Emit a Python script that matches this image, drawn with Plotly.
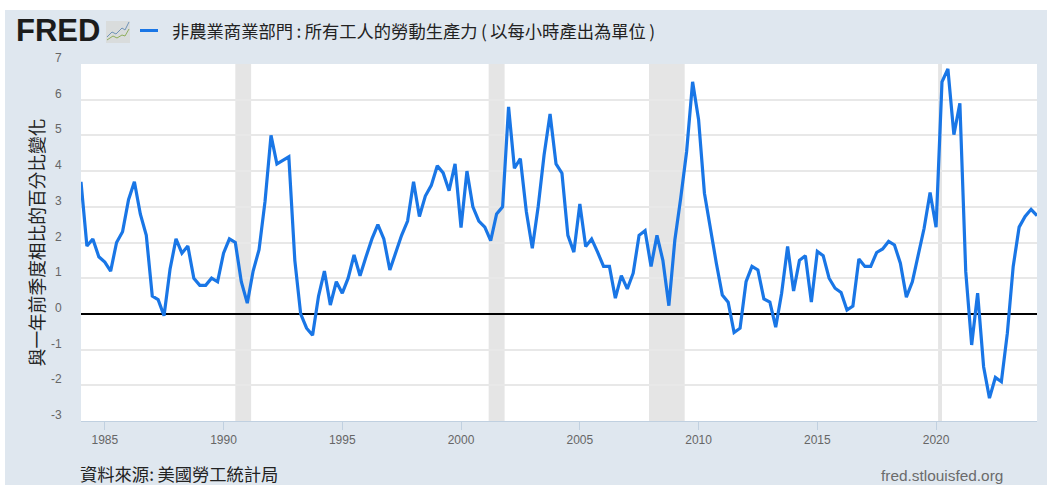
import pandas as pd
import plotly.graph_objects as go

W, H = 1047, 485
ML, MR, MT, MB = 81, 10, 64, 64

START_QUARTER = "1984-01-01"
productivity_yoy = [
    3.7, 1.9, 2.1, 1.6, 1.45, 1.2, 2.0, 2.3, 3.2, 3.7, 2.8, 2.2,
    0.5, 0.4, -0.05, 1.25, 2.1, 1.7, 1.9, 1.0, 0.8, 0.8, 1.0, 0.9,
    1.7, 2.1, 2.0, 0.9, 0.3, 1.2, 1.8, 3.15, 5.0, 4.2, 4.3, 4.4,
    1.5, 0.0, -0.4, -0.6, 0.5, 1.2, 0.25, 0.9, 0.58, 1.0, 1.65, 1.07,
    1.6, 2.1, 2.5, 2.1, 1.23, 1.7, 2.2, 2.6, 3.7, 2.73, 3.3, 3.6,
    4.15, 3.95, 3.45, 4.2, 2.42, 4.0, 3.0, 2.6, 2.43, 2.05, 2.8, 3.0,
    5.8, 4.08, 4.35, 2.87, 1.84, 3.0, 4.45, 5.6, 4.2, 3.94, 2.2, 1.73,
    3.08, 1.89, 2.1, 1.73, 1.33, 1.33, 0.44, 1.07, 0.7, 1.14, 2.2, 2.33,
    1.33, 2.2, 1.5, 0.23, 2.07, 3.24, 4.55, 6.5, 5.44, 3.38, 2.35, 1.42,
    0.53, 0.33, -0.52, -0.4, 0.9, 1.33, 1.23, 0.42, 0.33, -0.37, 0.58, 1.89,
    0.64, 1.5, 1.63, 0.33, 1.75, 1.63, 1.0, 0.72, 0.6, 0.11, 0.22, 1.54,
    1.33, 1.33, 1.72, 1.82, 2.03, 1.93, 1.42, 0.47, 0.9, 1.6, 2.4, 3.4,
    2.43, 6.5, 6.86, 5.02, 5.9, 1.19, -0.87, 0.58, -1.48, -2.36, -1.78, -1.9,
    -0.54, 1.33, 2.43, 2.73, 2.93, 2.75,
]
quarters = pd.date_range(START_QUARTER, periods=len(productivity_yoy), freq="QS")

recession_starts = ["1990-07-01", "2001-03-01", "2007-12-01", "2020-02-01"]
recession_ends = ["1991-03-01", "2001-11-01", "2009-06-01", "2020-04-01"]
y_ticks = [-3, -2, -1, 0, 1, 2, 3, 4, 5, 6, 7]
x_tick_years = [1985, 1990, 1995, 2000, 2005, 2010, 2015, 2020]

THIN = "\u2009"
TITLE = f"非農業商業部門{THIN}:{THIN}所有工人的勞動生產力{THIN}({THIN}以每小時產出為單位{THIN})"
Y_TITLE = "與一年前季度相比的百分比變化"
SOURCE = f"資料來源:{THIN}美國勞工統計局"
SITE = "fred.stlouisfed.org"

PANEL = "#dfe7ef"
BLUE = "#1976e6"
CJK = "Noto Sans CJK TC"
SANS = "Liberation Sans"


def px(x):
    return (x - ML) / (W - ML - MR)


def py(y):
    return 1 - (y - MT) / (H - MT - MB)


def text(s, x, y, size, color, family=CJK, anchor="left"):
    return dict(text=s, x=px(x), y=py(y), xref="paper", yref="paper", showarrow=False,
                xanchor=anchor, yanchor="middle", font=dict(size=size, color=color, family=family))


def rect(x0, y0, x1, y1, color):
    return dict(type="rect", xref="paper", yref="paper", x0=px(x0), x1=px(x1), y0=py(y0), y1=py(y1),
                fillcolor=color, line=dict(width=0), layer="below")


def path(points, color, width):
    d = "M " + " L ".join(f"{px(a):.5f},{py(b):.5f}" for a, b in points)
    return dict(type="path", xref="paper", yref="paper", path=d, line=dict(color=color, width=width))


shapes = [
    rect(-2, -2, W + 2, 10, "#ffffff"),
    rect(-2, -2, 5, H + 2, "#ffffff"),
    rect(106, 21, 130, 43, "#d9dcdc"),
    path([(107, 37), (112, 32), (116, 34), (122, 28), (125, 30), (129, 22)], "#6f93b8", 1),
    path([(107, 40), (113, 36), (117, 38), (122, 35), (125, 36), (129, 29)], "#8fae5c", 1),
    dict(type="line", xref="paper", yref="paper", x0=px(140), x1=px(158), y0=py(30.5), y1=py(30.5),
         line=dict(color=BLUE, width=3)),
]
for s, e in zip(recession_starts, recession_ends):
    shapes.append(dict(type="rect", xref="x", yref="paper", x0=s, x1=e, y0=0, y1=1,
                       fillcolor="#e5e5e5", line=dict(width=0), layer="between"))

annotations = [
    text("<b>FRED</b>", 14, 31, 31, "#1c1c1c", SANS + ", Arial"),
    text(TITLE, 170, 30.5, 17.3, "#222222"),
    text(SOURCE, 78, 474, 17.3, "#222222"),
    text(SITE, 879, 476, 15.4, "#6b6b6b", SANS),
]
for v in y_ticks:
    annotations.append(dict(text=str(v), x=px(63.5), y=v, xref="paper", yref="y", yshift=6,
                            showarrow=False, xanchor="right", yanchor="middle",
                            font=dict(size=12, color="#666666", family=SANS)))

fig = go.Figure(go.Scatter(
    x=quarters, y=productivity_yoy, mode="lines", name=TITLE,
    line=dict(color=BLUE, width=3.2, shape="linear"),
    hovertemplate="%{x|%Y-%m}: %{y}<extra></extra>",
))

fig.update_layout(
    width=W, height=H, margin=dict(l=ML, r=MR, t=MT, b=MB, pad=0),
    paper_bgcolor=PANEL, plot_bgcolor="white", showlegend=False,
    shapes=shapes, annotations=annotations,
    font=dict(family=SANS, color="#666666", size=12),
    xaxis=dict(
        type="date", range=[START_QUARTER, quarters[-1]],
        tickmode="array", tickvals=[f"{y}-01-01" for y in x_tick_years],
        ticktext=[str(y) for y in x_tick_years],
        ticks="outside", ticklen=8, tickwidth=1, tickcolor="#c0d0e0",
        showline=True, linecolor="#c0d0e0", linewidth=1, showgrid=False, zeroline=False,
        tickfont=dict(size=12, color="#666666"),
    ),
    yaxis=dict(
        range=[-3, 7], tickmode="array", tickvals=y_ticks, showticklabels=False,
        ticks="", showgrid=True, gridcolor="#e8e8e8", gridwidth=1.5,
        zeroline=True, zerolinecolor="#000000", zerolinewidth=2, showline=False,
        title=dict(text=Y_TITLE, font=dict(family=CJK, size=17.7, color="#222222"), standoff=30),
    ),
)

fig.write_html("out.html", config={"displayModeBar": False},
               post_script="document.body.style.margin='0';document.body.style.overflow='hidden';")
